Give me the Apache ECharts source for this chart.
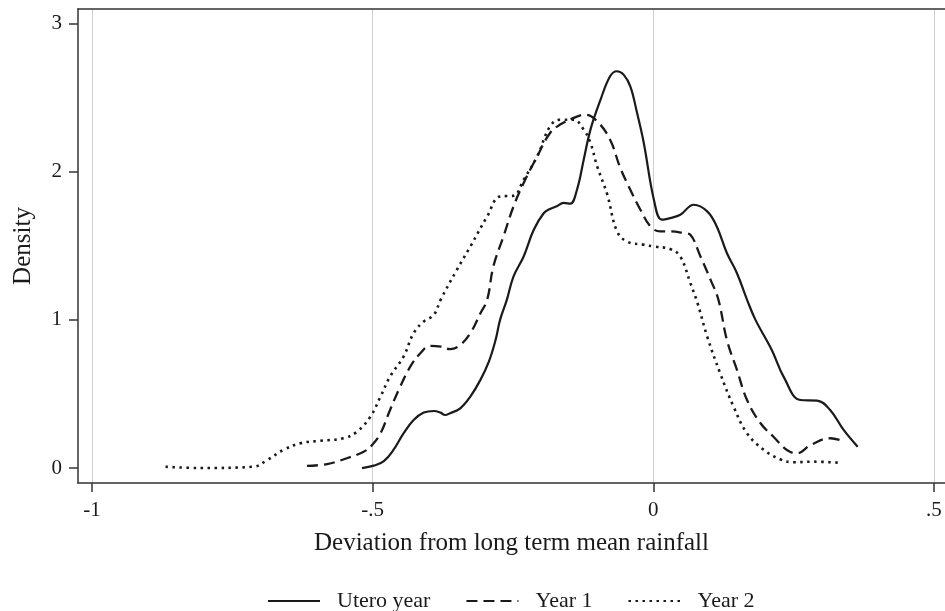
<!DOCTYPE html>
<html>
<head>
<meta charset="utf-8">
<script src="https://cdn.jsdelivr.net/npm/echarts@6/dist/echarts.min.js"></script>
<style>html,body{margin:0;padding:0;background:#fff}#c{width:945px;height:611px}</style>
</head>
<body>
<div id="c"></div>
<script>
// Series data: [deviation, density]
const uteroYear = [
[-0.519,0.00],[-0.498,0.016],[-0.480,0.047],[-0.463,0.122],[-0.445,0.234],[-0.427,0.324],
[-0.409,0.374],[-0.391,0.385],[-0.379,0.374],[-0.371,0.358],[-0.362,0.370],[-0.344,0.403],
[-0.326,0.482],[-0.308,0.595],[-0.293,0.718],[-0.281,0.865],[-0.273,1.0],[-0.261,1.135],
[-0.249,1.293],[-0.231,1.428],[-0.213,1.608],[-0.195,1.721],[-0.184,1.748],[-0.172,1.766],
[-0.160,1.789],[-0.148,1.784],[-0.136,1.878],[-0.124,2.081],[-0.112,2.284],[-0.094,2.486],
[-0.077,2.644],[-0.065,2.678],[-0.053,2.655],[-0.041,2.576],[-0.029,2.397],[-0.017,2.194],
[0.001,1.811],[0.015,1.676],[0.030,1.687],[0.048,1.709],[0.072,1.777],[0.096,1.732],
[0.113,1.630],[0.131,1.451],[0.149,1.315],[0.167,1.135],[0.182,1.0],[0.211,0.797],
[0.232,0.617],[0.262,0.459],[0.292,0.455],[0.315,0.392],[0.339,0.257],[0.364,0.144]
];
const year1 = [
[-0.617,0.014],[-0.581,0.027],[-0.546,0.066],[-0.516,0.110],[-0.501,0.155],[-0.486,0.234],
[-0.469,0.392],[-0.451,0.549],[-0.433,0.684],[-0.415,0.775],[-0.398,0.824],[-0.379,0.820],
[-0.362,0.802],[-0.344,0.831],[-0.326,0.910],[-0.308,1.045],[-0.296,1.135],[-0.285,1.360],
[-0.267,1.563],[-0.249,1.766],[-0.231,1.924],[-0.207,2.103],[-0.184,2.261],[-0.166,2.318],
[-0.142,2.363],[-0.121,2.385],[-0.100,2.340],[-0.077,2.216],[-0.059,2.027],[-0.041,1.878],
[-0.023,1.743],[-0.005,1.630],[0.012,1.597],[0.030,1.597],[0.054,1.586],[0.066,1.574],
[0.084,1.428],[0.102,1.270],[0.116,1.135],[0.131,0.865],[0.149,0.662],[0.167,0.459],
[0.191,0.302],[0.214,0.211],[0.238,0.122],[0.256,0.099],[0.280,0.155],[0.315,0.201],[0.342,0.178]
];
const year2 = [
[-0.869,0.009],[-0.807,0.0],[-0.712,0.009],[-0.688,0.054],[-0.659,0.122],[-0.629,0.167],
[-0.593,0.184],[-0.552,0.201],[-0.528,0.245],[-0.504,0.347],[-0.486,0.482],[-0.469,0.617],
[-0.445,0.752],[-0.427,0.910],[-0.409,0.989],[-0.391,1.034],[-0.379,1.135],[-0.350,1.338],
[-0.326,1.495],[-0.296,1.698],[-0.273,1.833],[-0.249,1.838],[-0.231,1.946],[-0.207,2.103],
[-0.184,2.306],[-0.166,2.351],[-0.142,2.351],[-0.124,2.284],[-0.112,2.194],[-0.100,2.036],
[-0.082,1.845],[-0.065,1.601],[-0.047,1.529],[-0.017,1.507],[0.001,1.495],[0.030,1.478],
[0.048,1.428],[0.066,1.248],[0.078,1.122],[0.096,0.887],[0.119,0.640],[0.143,0.414],
[0.167,0.234],[0.197,0.122],[0.226,0.059],[0.250,0.039],[0.286,0.043],[0.330,0.036]
];
const seriesNames = ['Utero year', 'Year 1', 'Year 2'];
const xTickValues = [-1, -0.5, 0, 0.5];
const xTickLabels = ['-1', '-.5', '0', '.5'];
const yTickValues = [0, 1, 2, 3];
const yTickLabels = ['0', '1', '2', '3'];
const xTitle = 'Deviation from long term mean rainfall';
const yTitle = 'Density';

const FONT = '"Liberation Serif", "DejaVu Serif", serif';
const INK = '#1a1a1a';
const X_MIN = -1.0249, X_MAX = 0.5196;
const chart = echarts.init(document.getElementById('c'), null, {renderer: 'canvas'});
const lab = (vals, labs) => v => { const i = vals.findIndex(t => Math.abs(t - v) < 1e-9); return i >= 0 ? labs[i] : ''; };
const mk = (name, data, type, width) => ({
  name, type: 'line', data, smooth: 0.4, showSymbol: false, symbol: 'none',
  lineStyle: {color: '#1a1a1a', width, type, cap: 'butt'}, itemStyle: {color: '#1a1a1a'}, z: 3
});
chart.setOption({
  animation: false,
  backgroundColor: '#fff',
  grid: {left: 78, top: 9, right: 0, bottom: 128, show: false, containLabel: false},
  xAxis: [{
    type: 'value', min: X_MIN, max: X_MAX,
    name: xTitle, nameLocation: 'middle', nameGap: 48,
    nameTextStyle: {fontFamily: FONT, fontSize: 25, color: INK},
    axisLine: {show: true, onZero: false, lineStyle: {color: '#333', width: 1.5}},
    axisTick: {show: true, length: 9, customValues: xTickValues, lineStyle: {color: '#333', width: 1.5}},
    axisLabel: {customValues: xTickValues, formatter: lab(xTickValues, xTickLabels), fontFamily: FONT, fontSize: 21, color: INK, margin: 17},
    splitLine: {show: true, lineStyle: {color: '#cfcfcf', width: 1}}
  }, {
    type: 'value', position: 'top', min: X_MIN, max: X_MAX,
    axisLine: {show: true, onZero: false, lineStyle: {color: '#333', width: 1.5}},
    axisTick: {show: false}, axisLabel: {show: false}, splitLine: {show: false}
  }],
  yAxis: {
    type: 'value', min: -0.101, max: 3.098,
    name: yTitle, nameLocation: 'middle', nameGap: 42,
    nameTextStyle: {fontFamily: FONT, fontSize: 25, color: INK},
    axisLine: {show: true, onZero: false, lineStyle: {color: '#333', width: 1.5}},
    axisTick: {show: true, length: 9, customValues: yTickValues, lineStyle: {color: '#333', width: 1.5}},
    axisLabel: {customValues: yTickValues, formatter: lab(yTickValues, yTickLabels), fontFamily: FONT, fontSize: 21, color: INK, margin: 16},
    splitLine: {show: false}
  },
  legend: {
    data: seriesNames, top: 585, left: 262, itemWidth: 52, itemHeight: 14, itemGap: 35,
    itemStyle: {opacity: 0, borderWidth: 0},
    textStyle: {fontFamily: FONT, fontSize: 22, color: INK, padding: [0, 0, 0, 12]}
  },
  series: [
    mk(seriesNames[0], uteroYear, 'solid', 2.2),
    mk(seriesNames[1], year1, [11, 6], 2.3),
    mk(seriesNames[2], year2, [2.5, 4.5], 2.6)
  ]
});
</script>
</body>
</html>
